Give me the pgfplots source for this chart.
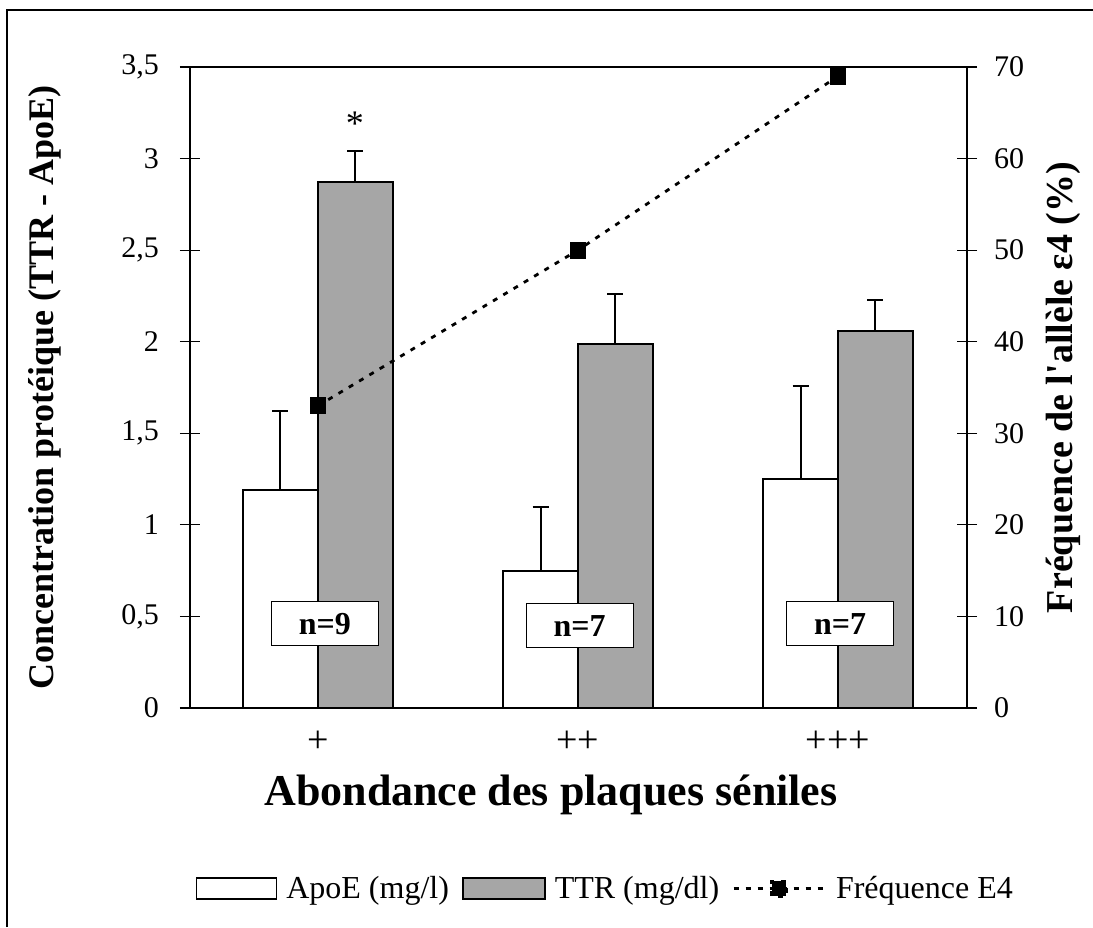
\documentclass[border=0pt]{standalone}
\usepackage{fontspec}
\setmainfont{Liberation Serif}
\usepackage{pgfplots}
\pgfplotsset{compat=1.18}
\begin{document}
\begin{tikzpicture}
\useasboundingbox (0,0) rectangle (546.5pt,463.5pt);
\draw[line width=0.7pt] (3.5pt,0) -- (3.5pt,458.5pt) -- (546.5pt,458.5pt);
\begin{axis}[
  at={(95pt,109.5pt)}, anchor=south west, scale only axis,
  width=388.5pt, height=320.5pt,
  xmin=-0.492, xmax=2.496, ymin=0, ymax=3.5,
  xtick={0,1,2}, xticklabels={+,++,+++}, xtick style={draw=none},
  ytick={0,0.5,1,1.5,2,2.5,3,3.5}, ytick pos=left,
  tick align=center, major tick length=10pt,
  axis line style={line width=0.6pt},
  tick style={line width=0.6pt, black},
  /pgf/number format/use comma,
  /pgf/number format/assume math mode=true,
  tick label style={font=\fontsize{15}{17}\selectfont},
  xticklabel style={yshift=-3pt, font=\fontsize{19}{21}\selectfont},
  yticklabel style={xshift=-7pt},
  xlabel={\bfseries Abondance des plaques séniles},
  xlabel style={at={(axis description cs:0.4646,-0.1357)}, anchor=center, font=\fontsize{22}{26}\selectfont},
  ylabel={\bfseries Concentration protéique (TTR - ApoE)},
  ylabel style={at={(axis description cs:-0.1866,0.5)}, anchor=center, rotate=0, font=\fontsize{18}{22}\selectfont},
  clip=false,
]
\addplot[ybar, bar width=37.5pt, bar shift=0pt, fill=white, draw=black, line width=1pt,
  error bars/.cd, y dir=plus, y explicit,
  error bar style={line width=1pt},
  error mark options={rotate=90, mark size=4pt, line width=1pt}]
  coordinates {(-0.144,1.19) +- (0,0.43) (0.856,0.75) +- (0,0.35) (1.856,1.25) +- (0,0.51)};
\addplot[ybar, bar width=37.5pt, bar shift=0pt, fill=black!35, draw=black, line width=1pt,
  error bars/.cd, y dir=plus, y explicit,
  error bar style={line width=1pt},
  error mark options={rotate=90, mark size=4pt, line width=1pt}]
  coordinates {(0.144,2.87) +- (0,0.17) (1.144,1.99) +- (0,0.27) (2.144,2.06) +- (0,0.17)};
\node[draw, fill=white, line width=0.5pt, minimum width=53.5pt, minimum height=22pt, font=\fontsize{16}{18}\selectfont\bfseries] at (axis cs:0.027,0.46) {n=9};
\node[draw, fill=white, line width=0.5pt, minimum width=53.5pt, minimum height=22pt, font=\fontsize{16}{18}\selectfont\bfseries] at (axis cs:1.006,0.45) {n=7};
\node[draw, fill=white, line width=0.5pt, minimum width=53.5pt, minimum height=22pt, font=\fontsize{16}{18}\selectfont\bfseries] at (axis cs:2.008,0.46) {n=7};
\node[font=\fontsize{18}{20}\selectfont] at (axis cs:0.142,3.19) {*};
\end{axis}
\begin{axis}[
  at={(95pt,109.5pt)}, anchor=south west, scale only axis,
  width=388.5pt, height=320.5pt,
  xmin=-0.492, xmax=2.496, ymin=0, ymax=70,
  axis x line=none, axis y line*=right,
  ytick={0,10,20,30,40,50,60,70},
  tick align=center, major tick length=10pt,
  axis line style={line width=0.6pt, -},
  tick style={line width=0.6pt, black},
  /pgf/number format/assume math mode=true,
  tick label style={font=\fontsize{15}{17}\selectfont},
  yticklabel style={xshift=5pt},
  ylabel={\bfseries Fréquence de l\textquotesingle allèle ε4 (\%)},
  ylabel style={at={(axis description cs:1.1236,0.5)}, anchor=center, rotate=0, font=\fontsize{19}{23}\selectfont},
  legend style={draw=none, at={(axis description cs:0.535,-0.282)}, anchor=center,
    legend columns=3, font=\fontsize{16}{19}\selectfont,
    nodes={inner sep=1.5pt},
    /tikz/every odd column/.append style={column sep=3pt},
    /tikz/every even column/.append style={column sep=5pt}},
  clip=false,
]
\addlegendimage{legend image code/.code={\draw[fill=white, draw=black, line width=0.9pt] (0pt,-5.25pt) rectangle (40pt,5.25pt);}}
\addlegendentry{ApoE (mg/l)}
\addlegendimage{legend image code/.code={\draw[fill=black!35, draw=black, line width=0.9pt] (0pt,-5.25pt) rectangle (41pt,5.25pt);}}
\addlegendentry{TTR (mg/dl)}
\addplot[black, line width=1.4pt, dash pattern=on 2.5pt off 3.5pt, mark=square*,
  mark options={solid, fill=black, mark size=3.5pt},
  legend image code/.code={\draw[black, line width=1.4pt, dash pattern=on 2.5pt off 3.5pt] (0pt,0pt) -- (46pt,0pt); \draw[black, fill=black] (19pt,-3.7pt) rectangle (26.4pt,3.7pt);}]
  coordinates {(0,33) (1,50) (2,69)};
\addlegendentry{Fréquence E4}
\end{axis}
\end{tikzpicture}
\end{document}
